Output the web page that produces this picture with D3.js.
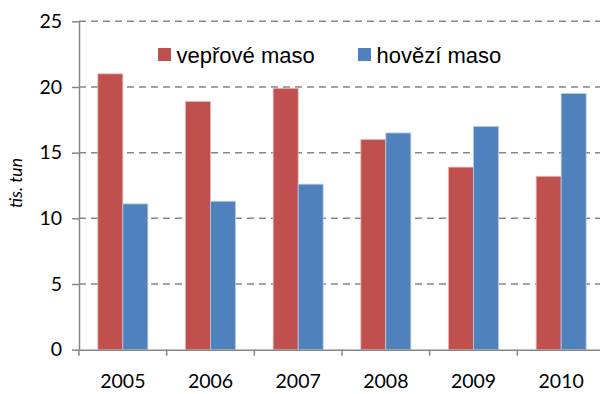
<!DOCTYPE html>
<html>
<head>
<meta charset="utf-8">
<script src="https://cdn.jsdelivr.net/npm/d3@7"></script>
<style>
  html, body { margin: 0; padding: 0; background: #fff; }
  svg { display: block; }
</style>
</head>
<body>
<svg id="chart" width="600" height="394"></svg>
<script>
// Meat production by year (thousand tonnes)
const years = ["2005", "2006", "2007", "2008", "2009", "2010"];
const seriesNames = ["vepřové maso", "hovězí maso"];
const pork = [21.0, 18.9, 19.9, 16.0, 13.9, 13.2];
const beef = [11.1, 11.3, 12.6, 16.5, 17.0, 19.5];
const yTicks = [0, 5, 10, 15, 20, 25];
const colors = ["#C0504D", "#4F81BD"];
const strokes = ["#E6B9B8", "#B9CDE5"];

const svg = d3.select("#chart");
const plotLeft = 79, plotRight = 605, plotTop = 21.3, plotBottom = 349.7;
const axisColor = "#868686";
const tickFont = "Lato, 'Open Sans', sans-serif";

const x = d3.scaleBand().domain(years).range([plotLeft, plotRight]);
const xInner = d3.scaleBand().domain([0, 1]).range([0, 50]);
const y = d3.scaleLinear().domain([0, 25]).range([plotBottom, plotTop]);

// dashed gridlines
svg.append("g").selectAll("line")
  .data(yTicks.filter(t => t > 0))
  .join("line")
  .attr("x1", plotLeft).attr("x2", 600)
  .attr("y1", d => y(d)).attr("y2", d => y(d))
  .attr("stroke", axisColor).attr("stroke-width", 1.5)
  .attr("stroke-dasharray", "7,5");

// bars
const groups = svg.append("g").selectAll("g")
  .data(years)
  .join("g")
  .attr("transform", d => `translate(${x(d) + x.bandwidth() / 2 - 25},0)`);

[pork, beef].forEach((vals, s) => {
  groups.append("rect")
    .attr("x", xInner(s))
    .attr("width", xInner.bandwidth())
    .attr("y", (d, i) => y(vals[i]))
    .attr("height", (d, i) => plotBottom - y(vals[i]))
    .attr("fill", colors[s])
    .attr("stroke", strokes[s])
    .attr("stroke-width", 0.8);
});

// y axis
const yAxis = svg.append("g")
  .attr("transform", `translate(${plotLeft},0)`)
  .call(d3.axisLeft(y).tickValues(yTicks).tickSize(7).tickPadding(10).tickSizeOuter(0));
yAxis.select(".domain").attr("stroke", axisColor).attr("stroke-width", 1.5);
yAxis.selectAll(".tick line").attr("stroke", axisColor).attr("stroke-width", 1.5);
yAxis.selectAll(".tick text")
  .attr("font-family", tickFont).attr("font-size", 19.5).attr("fill", "#000");

// x axis
const xAxis = svg.append("g")
  .attr("transform", `translate(0,${plotBottom})`)
  .call(d3.axisBottom(x).tickSize(0).tickSizeOuter(0).tickPadding(24));
xAxis.select(".domain").attr("stroke", axisColor).attr("stroke-width", 1.5);
xAxis.selectAll(".tick text")
  .attr("font-family", tickFont).attr("font-size", 19.5).attr("fill", "#000");

// category separators below the x axis
svg.append("g").selectAll("line")
  .data(years)
  .join("line")
  .attr("x1", d => x(d)).attr("x2", d => x(d))
  .attr("y1", plotBottom).attr("y2", plotBottom + 6)
  .attr("stroke", axisColor).attr("stroke-width", 1.5);

// y axis title
svg.append("text")
  .attr("transform", "translate(22,183) rotate(-90)")
  .attr("text-anchor", "middle")
  .attr("font-family", tickFont)
  .attr("font-style", "italic")
  .attr("font-size", 17.5)
  .text("tis. tun");

// legend
const legendX = [158, 358];
const legend = svg.append("g").selectAll("g")
  .data(seriesNames)
  .join("g")
  .attr("transform", (d, i) => `translate(${legendX[i]},48)`);
legend.append("rect")
  .attr("width", 13).attr("height", 13)
  .attr("fill", (d, i) => colors[i]);
legend.append("text")
  .attr("x", 18.5).attr("y", 14.5)
  .attr("font-family", "'Liberation Sans', Arial, sans-serif")
  .attr("font-size", 22)
  .attr("fill", "#000")
  .text(d => d);
</script>
</body>
</html>
